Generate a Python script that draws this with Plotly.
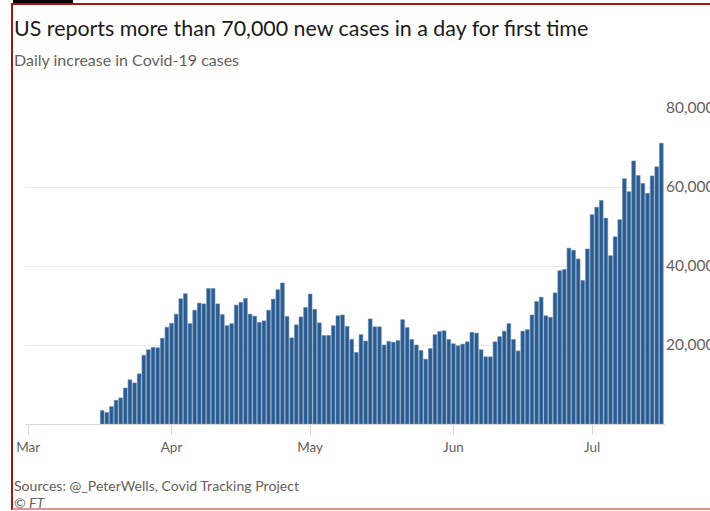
import pandas as pd
import plotly.graph_objects as go

# ---- data ----
start_date = "2020-03-17"
daily_cases = [
    3400, 2900, 4400, 6000, 6600, 9100, 11200, 10400, 12700, 17400,
    18800, 19400, 19300, 21700, 24500, 25500, 27800, 31700, 33000, 25400,
    28800, 30600, 30400, 34300, 34300, 30400, 27700, 24900, 25400, 30100,
    30800, 31800, 27800, 27300, 25700, 26100, 28800, 31600, 34000, 35700,
    27200, 21800, 25100, 27100, 29500, 32900, 29000, 25600, 22400, 22400,
    24900, 27400, 27600, 24700, 21400, 18100, 22600, 21000, 26600, 24600,
    24600, 20000, 20900, 20700, 21100, 26400, 24400, 21400, 20000, 18600,
    16400, 19100, 22600, 23400, 23600, 21400, 20300, 19800, 20200, 20800,
    23200, 23000, 18800, 17000, 17000, 20800, 22100, 23500, 25400, 21400,
    18500, 23500, 23900, 27600, 31000, 32100, 27400, 27000, 33200, 38800,
    39100, 44500, 44000, 41800, 36300, 44300, 53000, 54900, 56600, 52100,
    42600, 47400, 51700, 62100, 58800, 66600, 62900, 60900, 58400, 62800,
    65100, 71100,
]
dates = pd.date_range(start_date, periods=len(daily_cases), freq="D")

x_tick_dates = ["2020-03-01", "2020-04-01", "2020-05-01", "2020-06-01", "2020-07-01"]
x_tick_labels = ["Mar", "Apr", "May", "Jun", "Jul"]
y_tick_vals = [20000, 40000, 60000, 80000]
y_tick_labels = ["20,000", "40,000", "60,000", "80,000"]

title_text = "US reports more than 70,000 new cases in a day for first time"
subtitle_text = "Daily increase in Covid-19 cases"
source_text = "Sources: @_PeterWells, Covid Tracking Project"
credit_text = "<i>© FT</i>"

# ---- layout geometry ----
W, H = 710, 511
ML, MR, MT, MB = 25, 45, 108, 87
PW = W - ML - MR
PH = H - MT - MB


def px(xp):
    return (xp - ML) / PW


def py(yp):
    return 1 - (yp - MT) / PH


FONT = "Lato"
fig = go.Figure()
fig.add_trace(go.Bar(
    x=dates, y=daily_cases,
    marker=dict(color="#2c5b8e", line=dict(color="#5a86b8", width=0.6)),
    hoverinfo="x+y",
))

fig.update_layout(
    width=W, height=H,
    margin=dict(l=ML, r=MR, t=MT, b=MB),
    paper_bgcolor="white", plot_bgcolor="white",
    bargap=0.2,
    showlegend=False,
    font=dict(family=FONT, color="#66605c"),
    xaxis=dict(
        type="date",
        automargin=False,
        range=["2020-02-29 07:00", "2020-07-16 19:00"],
        tickvals=x_tick_dates, ticktext=x_tick_labels,
        ticks="outside", ticklen=10, tickcolor="#d9d9d9", tickwidth=1,
        ticklabelstandoff=1,
        showline=True, linecolor="#d9d9d9", linewidth=1,
        showgrid=False, zeroline=False,
        tickfont=dict(size=13.5, color="#66605c"),
    ),
    yaxis=dict(
        side="right",
        automargin=False,
        range=[0, 80000],
        tickvals=y_tick_vals, ticktext=y_tick_labels,
        showgrid=True, gridcolor="#ebebeb", gridwidth=1,
        zeroline=False, showline=False, ticks="",
        tickfont=dict(size=15.5, color="#66605c"),
    ),
)

annotations = [
    dict(text=title_text, x=px(12), y=py(28), font=dict(size=21.4, color="#1a1a1a")),
    dict(text=subtitle_text, x=px(12), y=py(59), font=dict(size=16, color="#66605c")),
    dict(text=source_text, x=px(12), y=py(485), font=dict(size=14.1, color="#66605c")),
    dict(text=credit_text, x=px(12), y=py(502), font=dict(size=14.1, color="#66605c")),
]
for a in annotations:
    a.update(xref="paper", yref="paper", xanchor="left", yanchor="middle", showarrow=False)
fig.update_layout(annotations=annotations)

shapes = [
    dict(type="rect", x0=px(13), x1=px(73), y0=py(0), y1=py(5),
         fillcolor="#000000", line=dict(width=0)),
    dict(type="line", x0=px(12), x1=px(712), y0=py(4), y1=py(4),
         line=dict(color="#9e1616", width=2)),
    dict(type="line", x0=px(12), x1=px(12), y0=py(3), y1=py(510),
         line=dict(color="#9e1616", width=2)),
    dict(type="line", x0=px(12), x1=px(712), y0=py(509), y1=py(509),
         line=dict(color="#d07070", width=1.5)),
]
for s in shapes:
    s.update(xref="paper", yref="paper", layer="above")
fig.update_layout(shapes=shapes)

fig.write_html(
    "out.html",
    config={"displayModeBar": False},
    post_script="document.body.style.margin='0';document.body.style.overflow='hidden';",
)
